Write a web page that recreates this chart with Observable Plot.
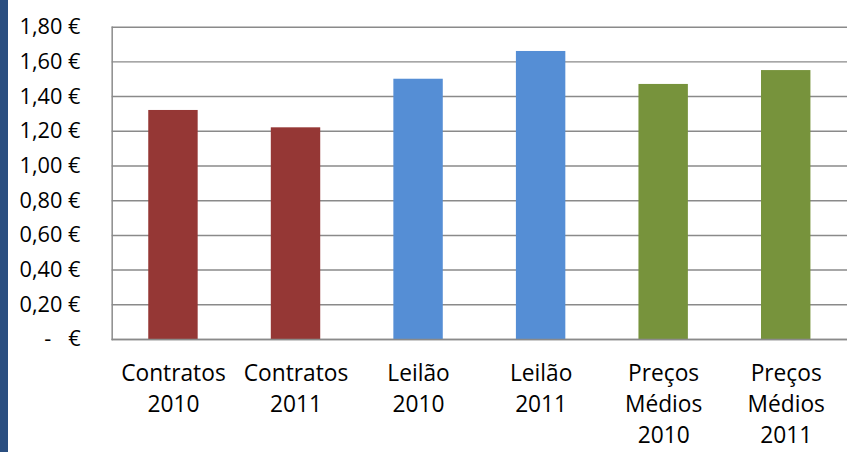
<!DOCTYPE html>
<html>
<head>
<meta charset="utf-8">
<script src="https://cdn.jsdelivr.net/npm/d3@7"></script>
<script src="https://cdn.jsdelivr.net/npm/@observablehq/plot@0.6"></script>
<style>
  html, body { margin: 0; padding: 0; background: #fff; overflow: hidden; }
  #wrap { position: relative; width: 847px; height: 452px; overflow: hidden; background: #fff; }
  #strip { position: absolute; left: 0; top: 0; width: 8px; height: 452px; background: #2a4e80; z-index: 2; }
  #chart { position: absolute; left: 0; top: 0; }
</style>
</head>
<body>
<div id="wrap"><div id="strip"></div><div id="chart"></div></div>
<script>
const categories = ["Contratos\n2010", "Contratos\n2011", "Leilão\n2010", "Leilão\n2011", "Preços\nMédios\n2010", "Preços\nMédios\n2011"];
const values = [1.32, 1.22, 1.50, 1.66, 1.47, 1.55];
const colors = ["#953735", "#953735", "#558ed5", "#558ed5", "#77933c", "#77933c"];
const yTicks = [0, 0.2, 0.4, 0.6, 0.8, 1.0, 1.2, 1.4, 1.6, 1.8];

const data = categories.map((c, i) => ({label: c, value: values[i], color: colors[i]}));

const fmt = d => d === 0 ? "-\u00a0\u00a0\u00a0€" : d.toFixed(2).replace(".", ",") + " €";

const chart = Plot.plot({
  width: 857,
  height: 452,
  marginLeft: 113,
  marginRight: 0,
  marginTop: 27,
  marginBottom: 109,
  style: {fontFamily: "'Open Sans', sans-serif", background: "transparent", color: "#000"},
  x: {domain: categories, padding: 0, label: null},
  y: {domain: [0, 1.8], label: null},
  marks: [
    Plot.gridY(yTicks, {stroke: "#8a8a8a", strokeOpacity: 1, strokeWidth: 1.5}),
    Plot.barY(data, {x: "label", y: "value", fill: "color", insetLeft: 37, insetRight: 37}),
    Plot.frame({anchor: "left", stroke: "#8a8a8a", strokeWidth: 1.5}),
    Plot.ruleY([0], {stroke: "#8a8a8a", strokeWidth: 1.5}),
    Plot.axisY(yTicks, {tickSize: 0, tickPadding: 32, tickFormat: fmt, fontSize: 22, fill: "#000", label: null}),
    Plot.axisX({tickSize: 0, tickPadding: 20, fontSize: 23, lineHeight: 1.36, fill: "#000", label: null, textOverflow: null, lineWidth: Infinity})
  ]
});
document.getElementById("chart").appendChild(chart);
</script>
</body>
</html>
